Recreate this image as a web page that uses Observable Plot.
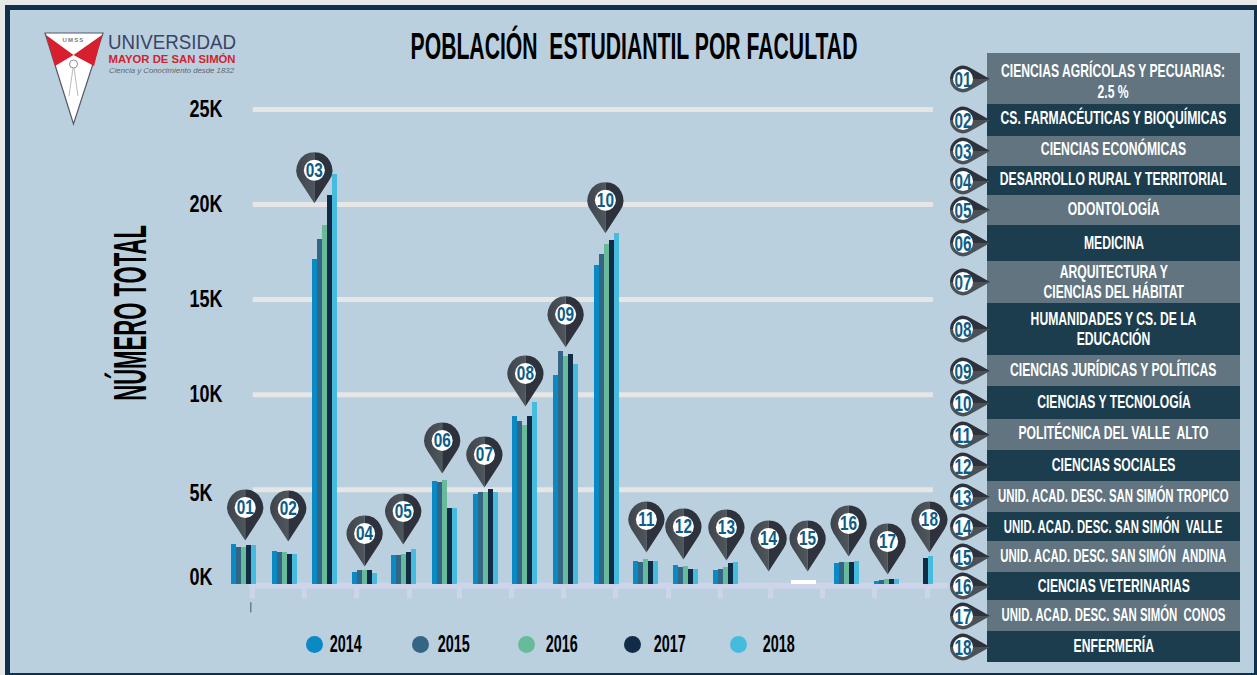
<!DOCTYPE html>
<html lang="es">
<head>
<meta charset="utf-8">
<title>Población estudiantil por facultad</title>
<script src="https://cdn.jsdelivr.net/npm/d3@7"></script>
<script src="https://cdn.jsdelivr.net/npm/@observablehq/plot@0.6"></script>
<style>
  html,body{margin:0;padding:0;background:#e8e8e8;}
  #page{position:absolute;left:5px;top:5px;width:1252px;height:670px;box-sizing:border-box;background:#bbd0de;border:solid #11304a;border-width:5px 3px 2px 5px;overflow:hidden;}
  #stage{position:absolute;left:0;top:0;width:1257px;height:675px;overflow:hidden;font-family:"Liberation Sans",sans-serif;font-weight:700;}
  #stage svg.plot{position:absolute;left:0;top:0;}
  .abs{position:absolute;white-space:pre;}
  .sq{display:inline-block;transform-origin:center;}
  #title{left:134px;width:1000px;top:25px;height:44px;line-height:44px;font-size:36px;color:#000;text-align:center;}
  #ylabel{left:-40px;width:340px;top:295px;height:40px;line-height:40px;text-align:center;font-size:46px;color:#000;transform:translateY(11px) rotate(-90deg);}
  .row{position:absolute;left:987px;width:253px;color:#fff;font-size:19px;line-height:20.5px;display:flex;align-items:center;justify-content:center;text-align:center;white-space:pre;}
  .legdot{position:absolute;width:17px;height:17px;border-radius:50%;top:635.5px;}
  .legtxt{position:absolute;top:631px;height:26px;line-height:26px;font-size:24px;color:#000;width:60px;text-align:center;}
  .panelpin{position:absolute;left:949px;width:42px;height:30px;}
</style>
</head>
<body>
<div id="page"></div>
<div id="stage"></div>
<script>
const faculties = ["01","02","03","04","05","06","07","08","09","10","11","12","13","14","15","16","17","18"];
const years = ["2014","2015","2016","2017","2018"];
const yearColors = ["#0a8ac5","#336685","#68bb9a","#122c47","#45bcdd"];

// students per faculty, one list per year
const y2014 = [2100,1740,17100,630,1530,5420,4740,8840,11000,16800,1210,1000,740,0,200,1100,160,0];
const y2015 = [1950,1680,18160,740,1530,5370,4840,8580,12260,17370,1160,890,790,0,200,1160,210,0];
const y2016 = [1950,1680,18900,740,1580,5470,4840,8370,12000,17900,1320,950,890,0,200,1160,260,0];
const y2017 = [2050,1580,20500,740,1680,4000,5000,8840,12100,18100,1210,790,1100,0,200,1160,260,1370];
const y2018 = [2050,1580,21600,580,1840,4000,4840,9580,11580,18500,1210,790,1160,0,200,1210,260,1470];
const series = [y2014,y2015,y2016,y2017,y2018];

// where each group and each pin sits along the faculty axis, and the value each pin points at
const groupPos = [1,2.01,3.01,4.02,4.99,6,7.02,8,9.01,10.02,10.99,12,13,14,14.94,16,17,17.84];
const pinPos = [1.03,2.1,2.75,4,4.96,5.93,6.98,8,9,9.99,11.01,11.93,13,14.05,15.02,16.04,17.01,18.05];
const pinValue = [2330,2280,20070,960,2120,5860,5120,9380,12490,18490,1700,1330,1280,700,700,1490,540,1700];
const axisTicks = [1.21,2.5,3.8,5.12,6.36,7.65,8.95,10.24,11.56,12.85,14.1,15.39,16.68,18];
const gridValues = [5000,10000,15000,20000,25000];
const whiteFaculty = "15";

const facultyNames = [
  "CIENCIAS AGRÍCOLAS Y PECUARIAS:\n2.5 %","CS. FARMACÉUTICAS Y BIOQUÍMICAS","CIENCIAS ECONÓMICAS",
  "DESARROLLO RURAL Y TERRITORIAL","ODONTOLOGÍA","MEDICINA","ARQUITECTURA Y\nCIENCIAS DEL HÁBITAT",
  "HUMANIDADES Y CS. DE LA\nEDUCACIÓN","CIENCIAS JURÍDICAS Y POLÍTICAS","CIENCIAS Y TECNOLOGÍA",
  "POLITÉCNICA DEL VALLE  ALTO","CIENCIAS SOCIALES","UNID. ACAD. DESC. SAN SIMÓN TROPICO",
  "UNID. ACAD. DESC. SAN SIMÓN  VALLE","UNID. ACAD. DESC. SAN SIMÓN  ANDINA","CIENCIAS VETERINARIAS",
  "UNID. ACAD. DESC. SAN SIMÓN  CONOS","ENFERMERÍA"];
const rowEdges = [53,104,136,166,195,225,261,303,355,386,419,450,481,512,541,572,600,631,662];
const rowTextShift = [3,-2,-2,-1,-1,0,0,0,0,0,-1,0,0,1,0,0,0,0];

const barWidth = 0.1235;
const bars = faculties.flatMap((f,i) => years.map((yr,j) => ({
  faculty:f, year:yr, value:series[j][i],
  x1:groupPos[i]+(j-2.5)*barWidth, x2:groupPos[i]+(j-1.5)*barWidth,
  color:f===whiteFaculty ? "#ffffff" : yearColors[j]
}))).filter(d => d.value>0);
const pins = faculties.map((f,i) => ({faculty:f,x:pinPos[i],value:pinValue[i]}));

// map-pin outline: tip at the origin, head above it
const H = 33, R = 18, T = R/H, TX = R*Math.sqrt(1-T*T), TY = -H+R*T;
const half = side => ({draw(ctx,size){
  const k = Math.sqrt(size/Math.PI)/R;
  ctx.moveTo(0,0);
  ctx.lineTo(side*TX*k,TY*k);
  const a0 = Math.atan2(TY+H,side*TX);
  ctx.arc(0,-H*k,R*k,a0,-Math.PI/2,side>0);
  ctx.closePath();
}});

const gradient = () => {
  const defs = d3.create("svg:defs");
  const g = defs.append("linearGradient").attr("id","pinLeft").attr("x1",0).attr("x2",1).attr("y1",0).attr("y2",0);
  g.append("stop").attr("offset",0).attr("stop-color","#3f444c");
  g.append("stop").attr("offset",1).attr("stop-color","#4e575c");
  return defs.node();
};

const labelFont = {fontFamily:'"Liberation Sans",sans-serif',fontWeight:700,fill:"#000",fontSize:24};
const axisBase = {anchor:"left",label:null,tickSize:0,tickFormat:d=>`${d/1000}K`,textAnchor:"start",dx:198,...labelFont};

const chart = Plot.plot({
  width:1257,height:675,
  marginLeft:0,marginRight:0,marginTop:0,marginBottom:0,
  style:{background:"transparent",overflow:"visible"},
  x:{type:"linear",domain:[1,18],range:[243.5,926.9],axis:null},
  y:{type:"linear",domain:[0,25000],range:[584.3,109],axis:null},
  marks:[
    gradient,
    Plot.ruleY(gridValues,{x1:1.23,x2:18.15,stroke:"#e6e6e6",strokeWidth:5}),
    Plot.ruleY([0],{x1:1.13,x2:18.53,stroke:"#cdd5ea",strokeWidth:6,dy:1}),
    Plot.ruleX(axisTicks,{y:0,stroke:"#cdd5ea",strokeWidth:5,insetBottom:-14}),
    Plot.ruleX([1.17],{y:0,stroke:"#3a5a70",strokeWidth:1,dy:18,insetBottom:-10}),
    Plot.rectY(bars,{x1:"x1",x2:"x2",y1:0,y2:"value",fill:"color",shapeRendering:"crispEdges"}),
    Plot.axisY({...axisBase,ticks:[10000,15000,20000,25000]}),
    Plot.axisY({...axisBase,ticks:[5000],dy:4}),
    Plot.axisY({...axisBase,ticks:[0],dy:-7}),
    Plot.dot(pins,{x:"x",y:"value",r:R,symbol:half(-1),fill:"url(#pinLeft)"}),
    Plot.dot(pins,{x:"x",y:"value",r:R,symbol:half(1),fill:"#2e323c"}),
    Plot.dot(pins,{x:"x",y:"value",r:10.5,dy:-H,fill:"#fff"}),
    Plot.text(pins,{x:"x",y:"value",text:"faculty",dy:-H,fill:"#0e5c85",fontSize:21,fontWeight:700,
      fontFamily:'"Liberation Sans",sans-serif'})
  ]
});
const stage = document.getElementById("stage");
chart.classList.add("plot");
stage.appendChild(chart);
// condense the tick and pin numbers to the poster's narrow lettering
chart.querySelectorAll("text").forEach(t => {
  const isPin = t.textContent.length===2 && !t.textContent.endsWith("K");
  t.setAttribute("textLength",(t.getComputedTextLength()*(isPin?0.73:0.75)).toFixed(1));
  t.setAttribute("lengthAdjust","spacingAndGlyphs");
});

function add(cls,id,css,html){
  const e=document.createElement("div");
  e.className=cls; if(id) e.id=id;
  if(css) e.style.cssText=css;
  e.innerHTML=html||"";
  stage.appendChild(e);
  return e;
}
add("abs","title","",'<span class="sq" style="transform:scaleX(.588)">POBLACIÓN  ESTUDIANTIL POR FACULTAD</span>');
add("abs","ylabel","",'<span class="sq" style="transform:scaleX(.48)">NÚMERO TOTAL</span>');

// legend
const legDotX = [314,420,526,632,738], legTxtX = [346,453.5,562,670,778.5];
years.forEach((y,i)=>{
  add("legdot","",`left:${legDotX[i]-8.5}px;background:${yearColors[i]}`);
  add("legtxt","",`left:${legTxtX[i]-30}px`,`<span class="sq" style="transform:scaleX(.6)">${y}</span>`);
});

// faculty key
facultyNames.forEach((name,i)=>{
  const top=rowEdges[i], h=rowEdges[i+1]-top;
  const squeeze = name.startsWith("UNID.") ? .6 : .64;
  add("row","",`top:${top}px;height:${h}px;background:${i%2?"#1c3d4e":"#61747f"}`,
    `<span class="sq" style="transform:translateY(${rowTextShift[i]}px) scaleX(${squeeze})">${name}</span>`);
});
facultyNames.forEach((name,i)=>{
  const c=(rowEdges[i]+rowEdges[i+1])/2;
  add("panelpin","",`top:${c-15}px`,
   `<svg width="42" height="30" viewBox="0 0 42 30" style="overflow:visible">
     <path d="M14 1.5 A13.5 13.5 0 0 0 1 15 L41 15 L21.5 4 A13.5 13.5 0 0 0 14 1.5Z" fill="#2e323c"/>
     <path d="M14 28.5 A13.5 13.5 0 0 1 1 15 L41 15 L21.5 26 A13.5 13.5 0 0 1 14 28.5Z" fill="#4a5157"/>
     <circle cx="14" cy="15" r="10" fill="#fff"/>
     <text x="14" y="15" dy=".36em" text-anchor="middle" font-size="22" font-weight="700" fill="#0e5c85" textLength="17" lengthAdjust="spacingAndGlyphs">${faculties[i]}</text>
   </svg>`);
});

// university logo
add("abs","",`left:40px;top:28px;width:210px;height:100px;`,
 `<svg width="210" height="100" viewBox="40 28 210 100" style="font-family:'Liberation Sans',sans-serif;font-weight:400">
   <path d="M45 33 H103 L73.5 124Z" fill="#fff" stroke="#55596a" stroke-width="1.2"/>
   <path d="M46 35 L73.5 55 L55 66Z" fill="#d81f30"/>
   <path d="M102 35 L73.5 55 L94 66Z" fill="#d81f30"/>
   <text x="73.5" y="42" text-anchor="middle" font-size="6" font-weight="700" fill="#777" letter-spacing="1.2">UMSS</text>
   <circle cx="73.5" cy="64" r="4" fill="#fff" stroke="#8a8f99"/>
   <path d="M73 68 L69 96 M74 68 L78 96" stroke="#aaa" stroke-width=".8"/>
   <text x="108" y="49" font-size="20.5" fill="#3a4466" textLength="128" lengthAdjust="spacingAndGlyphs">UNIVERSIDAD</text>
   <text x="108.5" y="63" font-size="10.5" font-weight="700" fill="#cf2430" textLength="127" lengthAdjust="spacingAndGlyphs">MAYOR DE SAN SIMÓN</text>
   <text x="109" y="73" font-size="7" font-style="italic" fill="#5c6470" textLength="125" lengthAdjust="spacingAndGlyphs">Ciencia y Conocimiento desde 1832</text>
 </svg>`);
</script>
</body>
</html>
